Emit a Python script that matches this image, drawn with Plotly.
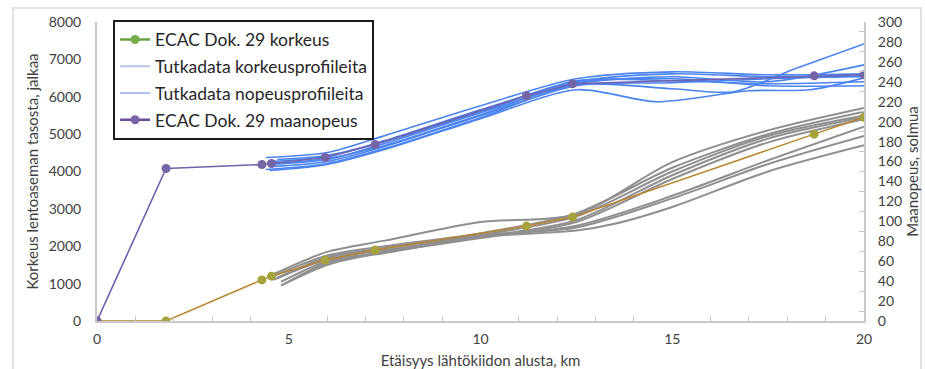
import plotly.graph_objects as go

# ---- data ----
ecac_x = [0, 1.8, 4.3, 4.55, 5.95, 7.25, 11.2, 12.4, 18.7, 20]
ecac_alt = [0, 0, 1100, 1200, 1630, 1900, 2540, 2780, 5000, 5450]
ecac_spd = [0, 153, 157, 158, 164, 177, 226, 238, 246, 247]

# radar altitude profiles (ft)
alt_x = [
    [4.6, 6, 7.5, 10, 12.5, 15, 17.5, 20],
    [4.6, 6, 7.5, 10, 12.5, 15, 17.5, 20],
    [4.7, 6, 7.5, 10, 12.5, 15, 17.5, 20],
    [4.6, 6, 7.5, 10, 12.5, 15, 17.5, 20],
    [4.8, 6, 7.5, 10, 12.5, 15, 17.5, 20],
    [4.9, 6, 7.5, 10, 12.5, 15, 17.5, 20],
    [4.7, 6, 7.5, 10, 12.5, 15, 17.5, 20],
    [4.8, 6, 7.5, 10, 12.5, 13.5, 15, 17.5, 20],
]
alt_y = [
    [1250, 1850, 2150, 2650, 2850, 4250, 5100, 5700],
    [1200, 1750, 2000, 2350, 2880, 4100, 5000, 5600],
    [1150, 1700, 1950, 2300, 2800, 4000, 4950, 5500],
    [1100, 1650, 1900, 2250, 2700, 3900, 4880, 5450],
    [1050, 1600, 1850, 2220, 2650, 3800, 4780, 5400],
    [1000, 1550, 1820, 2250, 2550, 3350, 4300, 5200],
    [1150, 1700, 1950, 2300, 2500, 3280, 4200, 4950],
    [950, 1500, 1850, 2250, 2420, 2600, 3050, 4000, 4700],
]

# radar ground-speed profiles (knots)
spd_x = [
    [4.4, 6, 7.5, 10, 12.5, 15, 17.5, 20],
    [4.5, 6, 7.5, 10, 12.5, 15, 17.5, 20],
    [4.5, 6, 7.5, 10, 12.5, 15, 17.5, 20],
    [4.6, 6, 7.5, 10, 12.5, 15, 17.5, 20],
    [4.4, 6, 7.5, 10, 12.5, 15, 16.6, 18.2, 20],
    [4.5, 6, 7.5, 10, 12.5, 14.6, 17, 18.6, 20],
    [4.6, 6, 7.5, 10, 12.5, 15, 17.5, 20],
    [4.7, 6, 7.5, 10, 12.5, 15, 17.5, 20],
]
spd_y = [
    [164, 169, 186, 216, 243, 250, 247, 248],
    [160, 165, 181, 212, 240, 248, 245, 246],
    [157, 162, 178, 209, 238, 245, 240, 257],
    [155, 160, 175, 206, 236, 239, 243, 245],
    [152, 158, 173, 204, 237, 233, 230, 253, 278],
    [151, 157, 172, 203, 232, 220, 231, 232, 244],
    [158, 163, 176, 207, 239, 243, 236, 236],
    [162, 166, 180, 210, 241, 241, 238, 240],
]

legend_names = [
    "ECAC Dok. 29 korkeus",
    "Tutkadata korkeusprofiileita",
    "Tutkadata nopeusprofiileita",
    "ECAC Dok. 29 maanopeus",
]

x_title = "Etäisyys lähtökiidon alusta, km"
y_title = "Korkeus lentoaseman tasosta, jalkaa"
y2_title = "Maanopeus, solmua"

FONT = "Lato"
TXT = "#404040"

fig = go.Figure()

for xs, ys in zip(alt_x, alt_y):
    fig.add_trace(go.Scatter(x=xs, y=ys, mode="lines", showlegend=False,
                             line=dict(color="#8f8f8f", width=2, shape="spline", smoothing=0.8)))

fig.add_trace(go.Scatter(x=ecac_x, y=ecac_alt, mode="lines+markers", showlegend=False,
                         line=dict(color="#b8862e", width=1.5),
                         marker=dict(color="#a6a33c", size=9)))

for xs, ys in zip(spd_x, spd_y):
    fig.add_trace(go.Scatter(x=xs, y=ys, yaxis="y2", mode="lines", showlegend=False,
                             line=dict(color="#4a84f0", width=1.6, shape="spline", smoothing=0.8)))

fig.add_trace(go.Scatter(x=ecac_x, y=ecac_spd, yaxis="y2", mode="lines+markers", showlegend=False,
                         line=dict(color="#6e62ae", width=1.6),
                         marker=dict(color="#7564a6", size=9)))

# legend-only entries (styled like the reference legend)
leg_styles = [
    dict(mode="lines+markers", line=dict(color="#6aa33c", width=2.5), marker=dict(color="#77ac4a", size=9)),
    dict(mode="lines", line=dict(color="#b4c4e4", width=2)),
    dict(mode="lines", line=dict(color="#a8c2ec", width=2)),
    dict(mode="lines+markers", line=dict(color="#6a4c9c", width=2.5), marker=dict(color="#7a62a8", size=9)),
]
for i, (name, st) in enumerate(zip(legend_names, leg_styles)):
    fig.add_trace(go.Scatter(x=[None], y=[None], name=name, legendgroup=str(i), showlegend=True, **st))

axis_common = dict(showgrid=False, zeroline=False, showline=True, linecolor="#c8c8c8", linewidth=2,
                   tickfont=dict(family=FONT, size=14, color=TXT), ticks="", automargin=False)

fig.update_layout(
    width=925, height=369,
    margin=dict(l=97, r=61, t=22, b=48),
    paper_bgcolor="white", plot_bgcolor="white",
    font=dict(family=FONT, color=TXT),
    xaxis=dict(range=[0, 20], dtick=5, ticklabelstandoff=4, **axis_common,
               minor=dict(dtick=1, ticks="inside", ticklen=5, tickcolor="#c8c8c8", tickwidth=1),
               title=dict(text=x_title, font=dict(family=FONT, size=15, color=TXT), standoff=11)),
    yaxis=dict(range=[0, 8000], dtick=1000, ticklabelstandoff=11, **axis_common,
               title=dict(text=y_title, font=dict(family=FONT, size=15, color=TXT), standoff=6)),
    yaxis2=dict(range=[0, 300], dtick=20, overlaying="y", side="right", ticklabelstandoff=9, **axis_common,
                minor=dict(dtick=10, ticks="inside", ticklen=5, tickcolor="#c8c8c8", tickwidth=1),
                title=dict(text=y2_title, font=dict(family=FONT, size=15, color=TXT), standoff=6)),
    legend=dict(x=0.021, y=1.008, xanchor="left", yanchor="top",
                bordercolor="#1a1a1a", borderwidth=2, bgcolor="white",
                font=dict(family=FONT, size=17.5, color="#262626"),
                traceorder="grouped", tracegroupgap=1),
    shapes=[dict(type="rect", xref="paper", yref="paper",
                 x0=-0.1095, x1=1.0743, y0=-0.2, y1=1.0468,
                 line=dict(color="#d9d9d9", width=1.5), layer="below")],
)

fig.write_html("out.html", config={"displayModeBar": False},
               post_script="document.body.style.margin='0';document.body.style.overflow='hidden';")
